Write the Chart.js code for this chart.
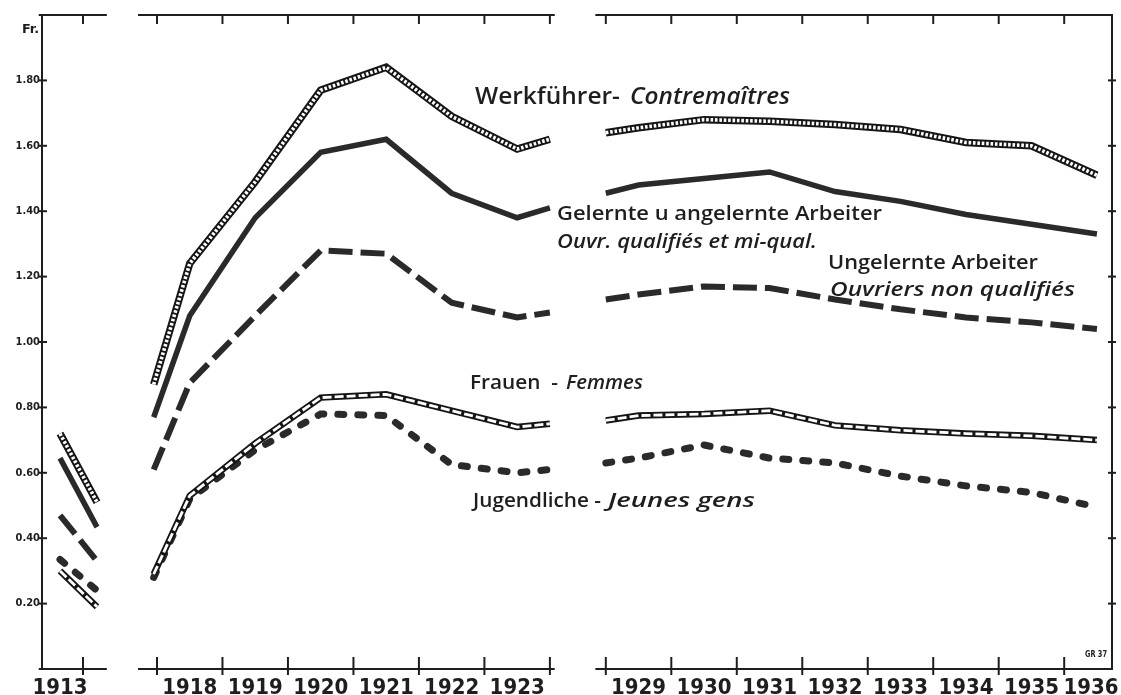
<!DOCTYPE html>
<html>
<head>
<meta charset="utf-8">
<script src="https://cdn.jsdelivr.net/npm/chart.js@4.4.1/dist/chart.umd.min.js"></script>
<style>
  html, body { margin: 0; padding: 0; background: #ffffff; }
  #wrap { width: 1121px; height: 695px; position: relative; }
</style>
</head>
<body>
<div id="wrap"><canvas id="c" width="1121" height="695"></canvas></div>
<script>
// ---------------- DATA (Fr. per hour) ----------------
const yearsA = ['1913'];
const yearsB = ['1918', '1919', '1920', '1921', '1922', '1923'];
const yearsC = ['1929', '1930', '1931', '1932', '1933', '1934', '1935', '1936'];
const yTickValues = [0.2, 0.4, 0.6, 0.8, 1.0, 1.2, 1.4, 1.6, 1.8];
const yTickLabels = ['0.20', '0.40', '0.60', '0.80', '1.00', '1.20', '1.40', '1.60', '1.80'];

// A: 1913 value, end of 1913 stub
// B: lead-in, 1918 … 1923, lead-out
// C: lead-in, 1929 … 1936
const werkA = [0.72, 0.51];
const werkB = [0.87, 1.24, 1.49, 1.77, 1.84, 1.69, 1.59, 1.62];
const werkC = [1.64, 1.655, 1.68, 1.675, 1.665, 1.65, 1.61, 1.60, 1.51];

const gelerntA = [0.645, 0.434];
const gelerntB = [0.77, 1.08, 1.38, 1.58, 1.62, 1.455, 1.38, 1.41];
const gelerntC = [1.455, 1.48, 1.50, 1.52, 1.46, 1.43, 1.39, 1.36, 1.33];

const ungelerntA = [0.47, 0.33];
const ungelerntB = [0.61, 0.875, 1.08, 1.28, 1.27, 1.12, 1.075, 1.09];
const ungelerntC = [1.13, 1.145, 1.17, 1.165, 1.13, 1.10, 1.075, 1.06, 1.04];

const frauenA = [0.30, 0.19];
const frauenB = [0.29, 0.53, 0.69, 0.83, 0.84, 0.79, 0.74, 0.75];
const frauenC = [0.76, 0.775, 0.78, 0.79, 0.745, 0.73, 0.72, 0.713, 0.70];

const jugendA = [0.335, 0.24];
const jugendB = [0.28, 0.52, 0.67, 0.78, 0.775, 0.625, 0.60, 0.61];
const jugendC = [0.63, 0.645, 0.685, 0.645, 0.63, 0.59, 0.56, 0.54, 0.495];

// ---------------- LAYOUT (broken year axis, in year-slot units) ----------------
const X_MAX = 16.34;
const A_CENTER = 0.275, A_STUB = 0.84, A_TICK = 0.626;
const B_FIRST = 1.756, C_FIRST = 8.61;
const AXIS_SEGMENTS = [[-0.05, 0.99], [1.466, 7.83], [8.45, X_MAX]];
const LAST_LABEL_SHIFT = -0.09;

function boundaries() {
  const b = [A_TICK];
  for (let k = 0; k <= yearsB.length; k++) b.push(B_FIRST + k);
  for (let k = 0; k < yearsC.length; k++) b.push(C_FIRST + k);
  return b;
}

function buildPoints(a, bb, cc) {
  const p = [];
  p.push({ x: A_CENTER, y: a[0] }, { x: A_STUB, y: a[1] });
  p.push({ x: 1.2, y: null });
  p.push({ x: B_FIRST - 0.05, y: bb[0] });
  yearsB.forEach((_, k) => p.push({ x: B_FIRST + k + 0.5, y: bb[k + 1] }));
  p.push({ x: B_FIRST + yearsB.length, y: bb[bb.length - 1] });
  p.push({ x: 8.2, y: null });
  p.push({ x: C_FIRST, y: cc[0] });
  yearsC.forEach((_, k) => p.push({ x: C_FIRST + k + 0.5, y: cc[k + 1] }));
  return p;
}

const INK = '#1e1e1e';
const SANS = '"Open Sans", "DejaVu Sans", sans-serif';
const COND = '"DejaVu Sans Condensed", "DejaVu Sans", sans-serif';

const xLabelValues = [A_CENTER]
  .concat(yearsB.map((_, k) => B_FIRST + k + 0.5))
  .concat(yearsC.map((_, k) => C_FIRST + k + 0.5 + (k === yearsC.length - 1 ? LAST_LABEL_SHIFT : 0)));
const xLabelTexts = yearsA.concat(yearsB, yearsC);

function ds(label, pts, color, width, dash, order, cap) {
  return {
    label, data: pts, borderColor: color, borderWidth: width,
    borderDash: dash || [], borderCapStyle: cap || 'butt', borderJoinStyle: 'miter',
    pointRadius: 0, tension: 0, fill: false, spanGaps: false, order
  };
}

const frame = {
  id: 'frame',
  beforeDraw(chart) {
    const c = chart.ctx;
    c.save(); c.fillStyle = '#ffffff'; c.fillRect(0, 0, chart.width, chart.height); c.restore();
  },
  afterDraw(chart) {
    const { ctx, chartArea: ca, scales: { x, y } } = chart;
    const X = v => x.getPixelForValue(v), Y = v => y.getPixelForValue(v);
    ctx.save();
    ctx.strokeStyle = INK; ctx.lineWidth = 2; ctx.lineCap = 'butt';
    const line = (x1, y1, x2, y2) => { ctx.beginPath(); ctx.moveTo(x1, y1); ctx.lineTo(x2, y2); ctx.stroke(); };
    line(ca.left, ca.top - 1, ca.left, ca.bottom + 1);
    line(ca.right, ca.top - 1, ca.right, ca.bottom + 1);
    AXIS_SEGMENTS.forEach(([a, b]) => {
      line(X(a), ca.bottom, X(b), ca.bottom);
      line(X(a), ca.top, X(b), ca.top);
    });
    boundaries().forEach(u => {
      line(X(u), ca.bottom - 12, X(u), ca.bottom + 6);
      line(X(u), ca.top, X(u), ca.top + 9);
    });
    yTickValues.forEach(v => {
      line(ca.left - 3, Y(v), ca.left + 5, Y(v));
      line(ca.right - 4, Y(v), ca.right + 4, Y(v));
    });

    // texts
    ctx.fillStyle = INK;
    ctx.textBaseline = 'middle';
    ctx.textAlign = 'left';
    const txt = (s, left, cy, width, size, italic, fam, weight) => {
      ctx.font = (italic ? 'italic ' : '') + (weight || '600') + ' ' + size + 'px ' + (fam || SANS);
      const w = ctx.measureText(s).width;
      ctx.save();
      ctx.translate(left, cy);
      ctx.scale(width / w, 1);
      ctx.fillText(s, 0, 0);
      ctx.restore();
    };
    txt('Fr.', 22, 30, 17, 13, false, COND, 'bold');
    txt('Werkführer-', 475, 97, 145, 23, false);
    txt('Contremaîtres', 630, 97, 160, 23, true);
    txt('Gelernte u angelernte Arbeiter', 557, 214, 325, 20, false);
    txt('Ouvr. qualifiés et mi-qual.', 557, 242, 260, 20, true);
    txt('Ungelernte Arbeiter', 828, 263, 210, 20, false);
    txt('Ouvriers non qualifiés', 830, 290, 245, 20, true);
    txt('Frauen  -', 470, 383, 88, 20, false);
    txt('Femmes', 566, 383, 77, 20, true);
    txt('Jugendliche -', 473, 501, 128, 20, false);
    txt('Jeunes gens', 608, 501, 147, 20, true);
    txt('GR 37', 1085, 655, 22, 9, false, COND, 'bold');
    ctx.restore();
  }
};

const chart = new Chart(document.getElementById('c'), {
  type: 'line',
  data: {
    datasets: [
      ds('Werkführer', buildPoints(werkA, werkB, werkC), '#151515', 7.5, null, 10),
      ds('Werkführer (hatch)', buildPoints(werkA, werkB, werkC), '#ffffff', 3.6, [2.6, 1.8], 9),
      ds('Gelernte u angelernte Arbeiter', buildPoints(gelerntA, gelerntB, gelerntC), '#2a2a2a', 5.5, null, 8),
      ds('Ungelernte Arbeiter', buildPoints(ungelerntA, ungelerntB, ungelerntC), '#2a2a2a', 6, [24, 8], 8),
      ds('Jugendliche', buildPoints(jugendA, jugendB, jugendC), '#2a2a2a', 7, [6, 14], 8, 'round'),
      ds('Frauen', buildPoints(frauenA, frauenB, frauenC), '#151515', 6.5, null, 6),
      ds('Frauen (inner)', buildPoints(frauenA, frauenB, frauenC), '#ffffff', 2.8, [9, 3], 5)
    ]
  },
  options: {
    responsive: false,
    animation: false,
    devicePixelRatio: 1,
    layout: { padding: { left: 0, right: 9, top: 15, bottom: 0 } },
    plugins: { legend: { display: false }, tooltip: { enabled: false }, title: { display: false } },
    scales: {
      x: {
        type: 'linear', min: 0, max: X_MAX, position: 'bottom',
        grid: { display: false, drawTicks: false }, border: { display: false },
        afterBuildTicks: s => { s.ticks = xLabelValues.map(v => ({ value: v })); },
        afterFit: s => { s.height = 26; s.paddingLeft = 0; s.paddingRight = 0; },
        ticks: {
          autoSkip: false, maxRotation: 0, minRotation: 0, padding: 6, color: INK,
          font: { family: COND, size: 22, weight: 'bold' },
          callback: (v, i) => xLabelTexts[i]
        }
      },
      y: {
        type: 'linear', min: 0, max: 2.0, position: 'left',
        grid: { display: false, drawTicks: false }, border: { display: false },
        afterBuildTicks: s => { s.ticks = yTickValues.map(v => ({ value: v })); },
        afterFit: s => { s.width = 42; s.paddingTop = 0; s.paddingBottom = 0; },
        ticks: {
          padding: 2, color: INK,
          font: { family: COND, size: 11, weight: 'bold' },
          callback: (v, i) => yTickLabels[i]
        }
      }
    }
  },
  plugins: [frame]
});
</script>
</body>
</html>
